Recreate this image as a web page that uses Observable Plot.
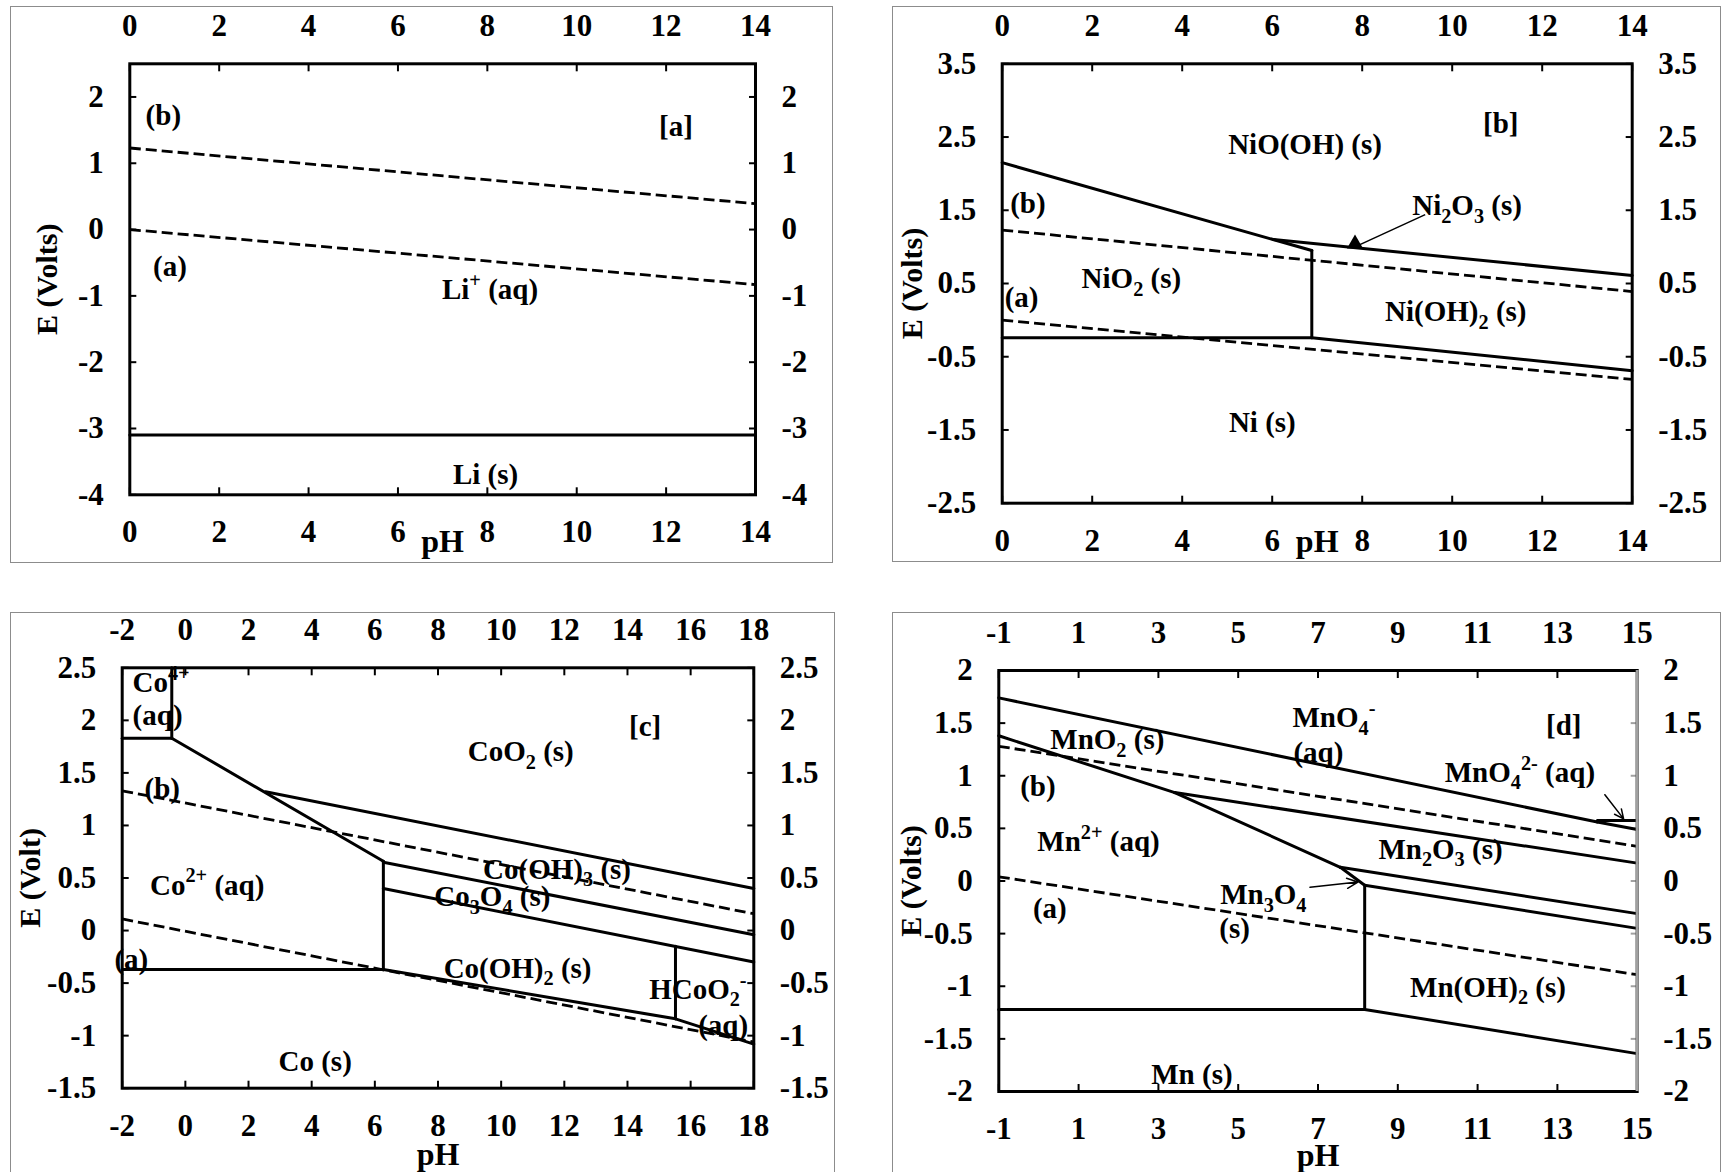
<!DOCTYPE html>
<html>
<head>
<meta charset="utf-8">
<script src="https://cdn.jsdelivr.net/npm/d3@7"></script>
<script src="https://cdn.jsdelivr.net/npm/@observablehq/plot@0.6"></script>
<style>
  html, body { margin: 0; padding: 0; background: #fff; }
  #page { position: relative; width: 1725px; height: 1172px; overflow: hidden; background: #fff; }
  .box { position: absolute; border: 1.5px solid #8c8c8c; box-sizing: border-box; }
  .panel { position: absolute; }
</style>
</head>
<body>
<div id="page"></div>
<script>
// ---------------- Panel [a] : Li ----------------
const aXTicks = [0, 2, 4, 6, 8, 10, 12, 14];
const aYTicks = [-4, -3, -2, -1, 0, 1, 2];
const aXDomain = [0, 14];
const aYDomain = [-4, 2.5];
const aSolid = [
  {pH1: 0, E1: -3.1, pH2: 14, E2: -3.1}
];
const aDashed = [
  {pH1: 0, E1: 1.23, pH2: 14, E2: 0.39},
  {pH1: 0, E1: 0.0, pH2: 14, E2: -0.83}
];
const aLabels = [
  {text: "(b)", pH: 0.75, E: 1.71},
  {text: "[a]", pH: 12.22, E: 1.55},
  {text: "(a)", pH: 0.9, E: -0.56},
  {text: "Li^{+} (aq)", pH: 8.06, E: -0.91},
  {text: "Li (s)", pH: 7.96, E: -3.7}
];
const aTitles = {y: "E (Volts)", x: "pH", xAt: 7};

// ---------------- Panel [b] : Ni ----------------
const bXTicks = [0, 2, 4, 6, 8, 10, 12, 14];
const bYTicks = [-2.5, -1.5, -0.5, 0.5, 1.5, 2.5, 3.5];
const bXDomain = [0, 14];
const bYDomain = [-2.5, 3.5];
const bSolid = [
  {pH1: 0, E1: 2.15, pH2: 6.88, E2: 0.95},
  {pH1: 6.03, E1: 1.10, pH2: 14, E2: 0.61},
  {pH1: 6.88, E1: 0.95, pH2: 6.88, E2: -0.24},
  {pH1: 0, E1: -0.24, pH2: 6.88, E2: -0.24},
  {pH1: 6.88, E1: -0.24, pH2: 14, E2: -0.69}
];
const bDashed = [
  {pH1: 0, E1: 1.23, pH2: 14, E2: 0.39},
  {pH1: 0, E1: 0.0, pH2: 14, E2: -0.81}
];
const bPointer = [{pH1: 9.4, E1: 1.44, pH2: 7.84, E2: 1.0}];
const bPointerHead = [{pH: 7.84, E: 1.04}];
const bLabels = [
  {text: "NiO(OH) (s)", pH: 6.73, E: 2.40},
  {text: "[b]", pH: 11.08, E: 2.68},
  {text: "(b)", pH: 0.57, E: 1.59},
  {text: "Ni_{2}O_{3} (s)", pH: 10.33, E: 1.56},
  {text: "NiO_{2} (s)", pH: 2.87, E: 0.56},
  {text: "(a)", pH: 0.43, E: 0.31},
  {text: "Ni(OH)_{2} (s)", pH: 10.08, E: 0.11},
  {text: "Ni (s)", pH: 5.78, E: -1.4}
];
const bTitles = {y: "E (Volts)", x: "pH", xAt: 7};

// ---------------- Panel [c] : Co ----------------
const cXTicks = [-2, 0, 2, 4, 6, 8, 10, 12, 14, 16, 18];
const cYTicks = [-1.5, -1, -0.5, 0, 0.5, 1, 1.5, 2, 2.5];
const cXDomain = [-2, 18];
const cYDomain = [-1.5, 2.5];
const cSolid = [
  {pH1: -0.43, E1: 2.5, pH2: -0.43, E2: 1.83},
  {pH1: -2, E1: 1.83, pH2: -0.43, E2: 1.83},
  {pH1: -0.43, E1: 1.83, pH2: 6.27, E2: 0.66},
  {pH1: 2.54, E1: 1.32, pH2: 18, E2: 0.40},
  {pH1: 6.27, E1: 0.65, pH2: 18, E2: -0.04},
  {pH1: 6.27, E1: 0.66, pH2: 6.27, E2: -0.37},
  {pH1: 6.27, E1: 0.40, pH2: 18, E2: -0.30},
  {pH1: 15.52, E1: -0.15, pH2: 15.52, E2: -0.84},
  {pH1: -2, E1: -0.37, pH2: 6.27, E2: -0.37},
  {pH1: 6.27, E1: -0.37, pH2: 15.52, E2: -0.84},
  {pH1: 15.52, E1: -0.84, pH2: 18, E2: -1.08}
];
const cDashed = [
  {pH1: -2, E1: 1.33, pH2: 18, E2: 0.16},
  {pH1: -2, E1: 0.11, pH2: 18, E2: -1.06}
];
const cLabels = [
  {text: "Co^{4+}", pH: -0.77, E: 2.36},
  {text: "(aq)", pH: -0.88, E: 2.04},
  {text: "[c]", pH: 14.56, E: 1.94},
  {text: "CoO_{2} (s)", pH: 10.62, E: 1.70},
  {text: "(b)", pH: -0.73, E: 1.35},
  {text: "Co^{2+} (aq)", pH: 0.69, E: 0.43},
  {text: "Co(OH)_{3} (s)", pH: 11.77, E: 0.58},
  {text: "Co_{3}O_{4} (s)", pH: 9.72, E: 0.32},
  {text: "(a)", pH: -1.71, E: -0.28},
  {text: "Co(OH)_{2} (s)", pH: 10.52, E: -0.36},
  {text: "HCoO_{2}^{-}", pH: 16.23, E: -0.56},
  {text: "(aq)", pH: 17.03, E: -0.91},
  {text: "Co (s)", pH: 4.11, E: -1.25}
];
const cTitles = {y: "E (Volt)", x: "pH", xAt: 8};

// ---------------- Panel [d] : Mn ----------------
const dXTicks = [-1, 1, 3, 5, 7, 9, 11, 13, 15];
const dYTicks = [-2, -1.5, -1, -0.5, 0, 0.5, 1, 1.5, 2];
const dXDomain = [-1, 15];
const dYDomain = [-2, 2];
const dSolid = [
  {pH1: -1, E1: 1.74, pH2: 14, E2: 0.56},
  {pH1: 14, E1: 0.56, pH2: 15, E2: 0.49},
  {pH1: 14, E1: 0.575, pH2: 15, E2: 0.575},
  {pH1: -1, E1: 1.38, pH2: 3.41, E2: 0.84},
  {pH1: 3.41, E1: 0.84, pH2: 7.56, E2: 0.13},
  {pH1: 7.56, E1: 0.13, pH2: 8.17, E2: -0.04},
  {pH1: 3.41, E1: 0.84, pH2: 15, E2: 0.17},
  {pH1: 7.56, E1: 0.13, pH2: 15, E2: -0.31},
  {pH1: 8.17, E1: -0.04, pH2: 15, E2: -0.45},
  {pH1: 8.17, E1: -0.04, pH2: 8.17, E2: -1.22},
  {pH1: -1, E1: -1.22, pH2: 8.17, E2: -1.22},
  {pH1: 8.17, E1: -1.22, pH2: 15, E2: -1.64}
];
const dDashed = [
  {pH1: -1, E1: 1.28, pH2: 15, E2: 0.33},
  {pH1: -1, E1: 0.04, pH2: 15, E2: -0.89}
];
const dPointers = [
  {pH1: 6.8, E1: -0.06, pH2: 8.0, E2: -0.01},
  {pH1: 14.19, E1: 0.82, pH2: 14.66, E2: 0.59}
];
const dLabels = [
  {text: "MnO_{4}^{-}", pH: 7.40, E: 1.55},
  {text: "(aq)", pH: 7.01, E: 1.22},
  {text: "[d]", pH: 13.16, E: 1.48},
  {text: "MnO_{2} (s)", pH: 1.72, E: 1.34},
  {text: "MnO_{4}^{2-} (aq)", pH: 12.06, E: 1.03},
  {text: "(b)", pH: -0.02, E: 0.90},
  {text: "Mn^{2+} (aq)", pH: 1.5, E: 0.37},
  {text: "Mn_{2}O_{3} (s)", pH: 10.07, E: 0.30},
  {text: "Mn_{3}O_{4}", pH: 5.63, E: -0.13},
  {text: "(s)", pH: 4.91, E: -0.45},
  {text: "(a)", pH: 0.28, E: -0.26},
  {text: "Mn(OH)_{2} (s)", pH: 11.26, E: -1.01},
  {text: "Mn (s)", pH: 3.84, E: -1.84}
];
const dTitles = {y: "E (Volts)", x: "pH", xAt: 7};

// ---------------- layout ----------------
const FONT = "'Liberation Serif', 'Times New Roman', Times, serif";
const TICK_FS = 31, LABEL_FS = 29, YTITLE_FS = 30, XTITLE_FS = 32;

const panels = [
  {box: {left: 10, top: 6, width: 823, height: 557}, frame: {x0: 129.3, x1: 755, y0: 63.3, y1: 494.3},
   xDomain: aXDomain, yDomain: aYDomain, xTicks: aXTicks, yTicks: aYTicks, solid: aSolid, dashed: aDashed,
   labels: aLabels, titles: aTitles, yTitleDx: -82, xTitleDy: 47},
  {box: {left: 892, top: 6, width: 829, height: 556}, frame: {x0: 1001.7, x1: 1631.7, y0: 63.3, y1: 502.7},
   xDomain: bXDomain, yDomain: bYDomain, xTicks: bXTicks, yTicks: bYTicks, solid: bSolid, dashed: bDashed,
   labels: bLabels, titles: bTitles, yTitleDx: -90, xTitleDy: 39, links: bPointer, heads: bPointerHead},
  {box: {left: 10, top: 612, width: 825, height: 564}, frame: {x0: 121.7, x1: 753.3, y0: 667.3, y1: 1087.7},
   xDomain: cXDomain, yDomain: cYDomain, xTicks: cXTicks, yTicks: cYTicks, solid: cSolid, dashed: cDashed,
   labels: cLabels, titles: cTitles, yTitleDx: -92, xTitleDy: 67},
  {box: {left: 892, top: 612, width: 829, height: 564}, frame: {x0: 998.3, x1: 1636.7, y0: 670, y1: 1091},
   xDomain: dXDomain, yDomain: dYDomain, xTicks: dXTicks, yTicks: dYTicks, solid: dSolid, dashed: dDashed,
   labels: dLabels, titles: dTitles, yTitleDx: -87, xTitleDy: 64, arrows: dPointers, rightGray: true}
];

function richText(svg, fs) {
  svg.querySelectorAll("text").forEach(t => {
    const s = t.textContent;
    if (!/[_^]\{/.test(s)) return;
    const parts = s.split(/([_^]\{[^}]*\})/).filter(p => p.length);
    t.textContent = "";
    let shift = 0;
    for (const p of parts) {
      const ts = document.createElementNS("http://www.w3.org/2000/svg", "tspan");
      let target = 0, txt = p, small = false;
      if (p.startsWith("_{")) { target = 0.26 * fs; txt = p.slice(2, -1); small = true; }
      else if (p.startsWith("^{")) { target = -0.42 * fs; txt = p.slice(2, -1); small = true; }
      if (target !== shift) ts.setAttribute("dy", (target - shift).toFixed(2));
      shift = target;
      if (small) ts.setAttribute("font-size", (0.7 * fs).toFixed(1));
      ts.textContent = txt;
      t.appendChild(ts);
    }
  });
}

const page = document.getElementById("page");

for (const p of panels) {
  const {box, frame} = p;
  const border = document.createElement("div");
  border.className = "box";
  Object.assign(border.style, {left: box.left + "px", top: box.top + "px", width: box.width + "px", height: box.height + "px"});
  page.appendChild(border);

  const tickOpts = {tickFormat: d => String(d), label: null, fontSize: TICK_FS, fontWeight: "bold", fontFamily: FONT, strokeWidth: 2};
  const marks = [
    Plot.axisX(p.xTicks, {anchor: "top", tickSize: -7, tickPadding: 7 + 28, ...tickOpts}),
    Plot.axisX(p.xTicks, {anchor: "bottom", tickSize: -7, tickPadding: 7 + 25.5, ...tickOpts}),
    Plot.axisY(p.yTicks, {anchor: "left", tickSize: -7, tickPadding: 7 + 26, ...tickOpts}),
    Plot.axisY(p.yTicks, {anchor: "right", tickSize: -7, tickPadding: 7 + 26, ...tickOpts, stroke: p.rightGray ? "#a0a0a0" : "black"}),
    Plot.link(p.dashed, {x1: "pH1", y1: "E1", x2: "pH2", y2: "E2", stroke: "black", strokeWidth: 2.8, strokeDasharray: "11,5"}),
    Plot.link(p.solid, {x1: "pH1", y1: "E1", x2: "pH2", y2: "E2", stroke: "black", strokeWidth: 3, strokeLinecap: "round"}),
    Plot.text(p.labels, {x: "pH", y: "E", text: "text", fontSize: LABEL_FS, fontWeight: "bold", fontFamily: FONT, fill: "black"}),
    Plot.text([p.titles], {text: "y", frameAnchor: "left", textAnchor: "middle", lineAnchor: "middle", rotate: -90, dx: p.yTitleDx, fontSize: YTITLE_FS, fontWeight: "bold", fontFamily: FONT}),
    Plot.text([p.titles], {x: "xAt", text: "x", frameAnchor: "bottom", textAnchor: "middle", lineAnchor: "middle", dy: p.xTitleDy, fontSize: XTITLE_FS, fontWeight: "bold", fontFamily: FONT}),
    Plot.frame({stroke: "black", strokeWidth: 3})
  ];
  if (p.rightGray) marks.push(Plot.ruleX([p.xDomain[1]], {stroke: "#a0a0a0", strokeWidth: 3}));
  if (p.links) marks.push(Plot.link(p.links, {x1: "pH1", y1: "E1", x2: "pH2", y2: "E2", stroke: "black", strokeWidth: 1.5}));
  if (p.heads) marks.push(Plot.dot(p.heads, {x: "pH", y: "E", symbol: "triangle", r: 6, fill: "black", stroke: "none"}));
  if (p.arrows) marks.push(Plot.arrow(p.arrows, {x1: "pH1", y1: "E1", x2: "pH2", y2: "E2", stroke: "black", strokeWidth: 1.5, headLength: 12, headAngle: 50}));

  const svg = Plot.plot({
    width: box.width,
    height: box.height,
    marginLeft: frame.x0 - box.left,
    marginRight: box.left + box.width - frame.x1,
    marginTop: frame.y0 - box.top,
    marginBottom: box.top + box.height - frame.y1,
    x: {domain: p.xDomain, label: null},
    y: {domain: p.yDomain, label: null},
    style: {fontFamily: FONT, background: "transparent", overflow: "visible", color: "black"},
    marks
  });
  svg.classList.add("panel");
  svg.style.position = "absolute";
  svg.style.left = box.left + "px";
  svg.style.top = box.top + "px";
  page.appendChild(svg);
  richText(svg, LABEL_FS);
}
</script>
</body>
</html>
